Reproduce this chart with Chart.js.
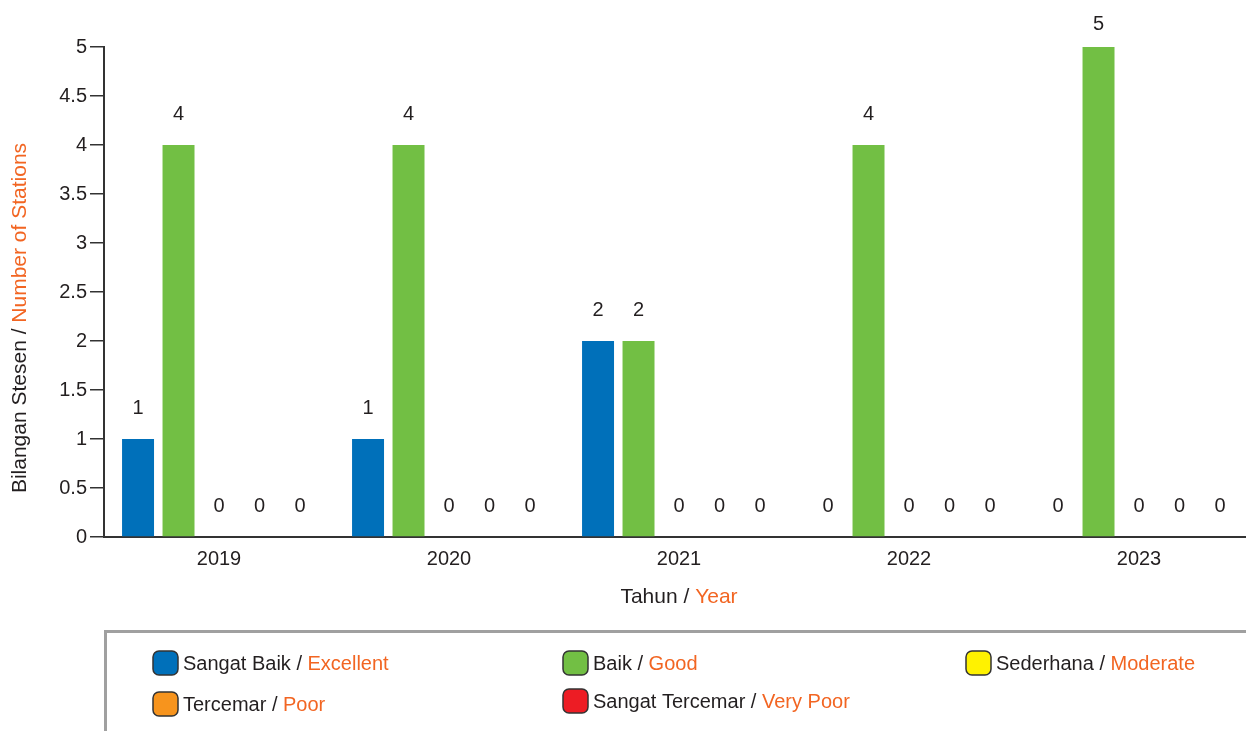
<!DOCTYPE html>
<html>
<head>
<meta charset="utf-8">
<script src="https://cdn.jsdelivr.net/npm/chart.js@4"></script>
<style>
  html, body { margin: 0; padding: 0; background: #fff; overflow: hidden; }
  #wrap { width: 1254px; height: 731px; }
</style>
</head>
<body>
<div id="wrap"><canvas id="chart"></canvas></div>
<script>
const years = ['2019', '2020', '2021', '2022', '2023'];
const excellent = [1, 1, 2, 0, 0];
const good = [4, 4, 2, 4, 5];
const moderate = [0, 0, 0, 0, 0];
const poor = [0, 0, 0, 0, 0];
const veryPoor = [0, 0, 0, 0, 0];

const labelsMs = ['Sangat Baik', 'Baik', 'Sederhana', 'Tercemar', 'Sangat Tercemar'];
const labelsEn = ['Excellent', 'Good', 'Moderate', 'Poor', 'Very Poor'];
const colors = ['#0070BA', '#72BF44', '#FFF200', '#F7941D', '#ED1C24'];

const FONT = '"Liberation Sans", Arial, sans-serif';
const DARK = '#231F20';
const ORANGE = '#F26522';

// two-coloured text "malay / english"
function drawPair(ctx, x, y, first, second, align, size) {
  ctx.font = `${size}px ${FONT}`;
  ctx.textBaseline = 'middle';
  ctx.textAlign = 'left';
  const a = first + ' / ';
  const wa = ctx.measureText(a).width;
  const wb = ctx.measureText(second).width;
  let start = x;
  if (align === 'center') start = x - (wa + wb) / 2;
  ctx.fillStyle = DARK;
  ctx.fillText(a, start, y);
  ctx.fillStyle = ORANGE;
  ctx.fillText(second, start + wa, y);
}

const extras = {
  id: 'extras',
  afterDraw(chart) {
    const ctx = chart.ctx;
    ctx.save();

    // value labels over bars
    ctx.font = `20px ${FONT}`;
    ctx.fillStyle = DARK;
    ctx.textAlign = 'center';
    ctx.textBaseline = 'middle';
    chart.data.datasets.forEach((ds, i) => {
      const meta = chart.getDatasetMeta(i);
      meta.data.forEach((bar, j) => {
        ctx.fillText(String(ds.data[j]), bar.x, Math.max(bar.y - 31, 24));
      });
    });

    // axis titles
    const area = chart.chartArea;
    drawPair(ctx, (area.left + area.right) / 2, 597, 'Tahun', 'Year', 'center', 21);
    ctx.save();
    ctx.translate(20, 318);
    ctx.rotate(-Math.PI / 2);
    drawPair(ctx, 0, 0, 'Bilangan Stesen', 'Number of Stations', 'center', 21);
    ctx.restore();

    // legend box
    ctx.strokeStyle = '#A0A0A0';
    ctx.lineWidth = 3;
    ctx.strokeRect(105.5, 631.5, 1200, 150);

    const spots = [[153, 663], [563, 663], [966, 663], [153, 704], [563, 701]];
    chart.data.datasets.forEach((ds, i) => {
      const [x, y] = spots[i];
      ctx.beginPath();
      ctx.roundRect(x, y - 12, 25, 24, 6);
      ctx.fillStyle = ds.backgroundColor;
      ctx.fill();
      ctx.lineWidth = 1.5;
      ctx.strokeStyle = '#333';
      ctx.stroke();
      drawPair(ctx, x + 30, y + 1, labelsMs[i], labelsEn[i], 'left', 20);
    });

    ctx.restore();
  }
};

const seriesData = [excellent, good, moderate, poor, veryPoor];

new Chart(document.getElementById('chart'), {
  type: 'bar',
  data: {
    labels: years,
    datasets: seriesData.map((values, i) => ({
      label: labelsMs[i] + ' / ' + labelsEn[i],
      data: values,
      backgroundColor: colors[i],
      categoryPercentage: 0.88,
      barPercentage: 0.79
    }))
  },
  options: {
    responsive: true,
    maintainAspectRatio: false,
    animation: false,
    layout: {
      padding: { top: 47, right: 0, left: 0, bottom: 0 }
    },
    plugins: {
      legend: { display: false },
      tooltip: { enabled: false }
    },
    scales: {
      x: {
        grid: { display: false, drawTicks: false },
        border: { display: true, color: '#333', width: 2 },
        ticks: { color: DARK, font: { family: FONT, size: 20 }, padding: 10 },
        afterFit: (scale) => { scale.height = 194; }
      },
      y: {
        min: 0,
        max: 5,
        grid: { drawOnChartArea: false, drawTicks: true, tickLength: 14, color: '#333', lineWidth: 1.5 },
        border: { display: true, color: '#333', width: 2 },
        ticks: {
          stepSize: 0.5,
          color: DARK,
          font: { family: FONT, size: 20 },
          padding: 3,
          callback: (v) => String(v)
        },
        afterFit: (scale) => { scale.width = 104; }
      }
    }
  },
  plugins: [extras]
});
</script>
</body>
</html>
